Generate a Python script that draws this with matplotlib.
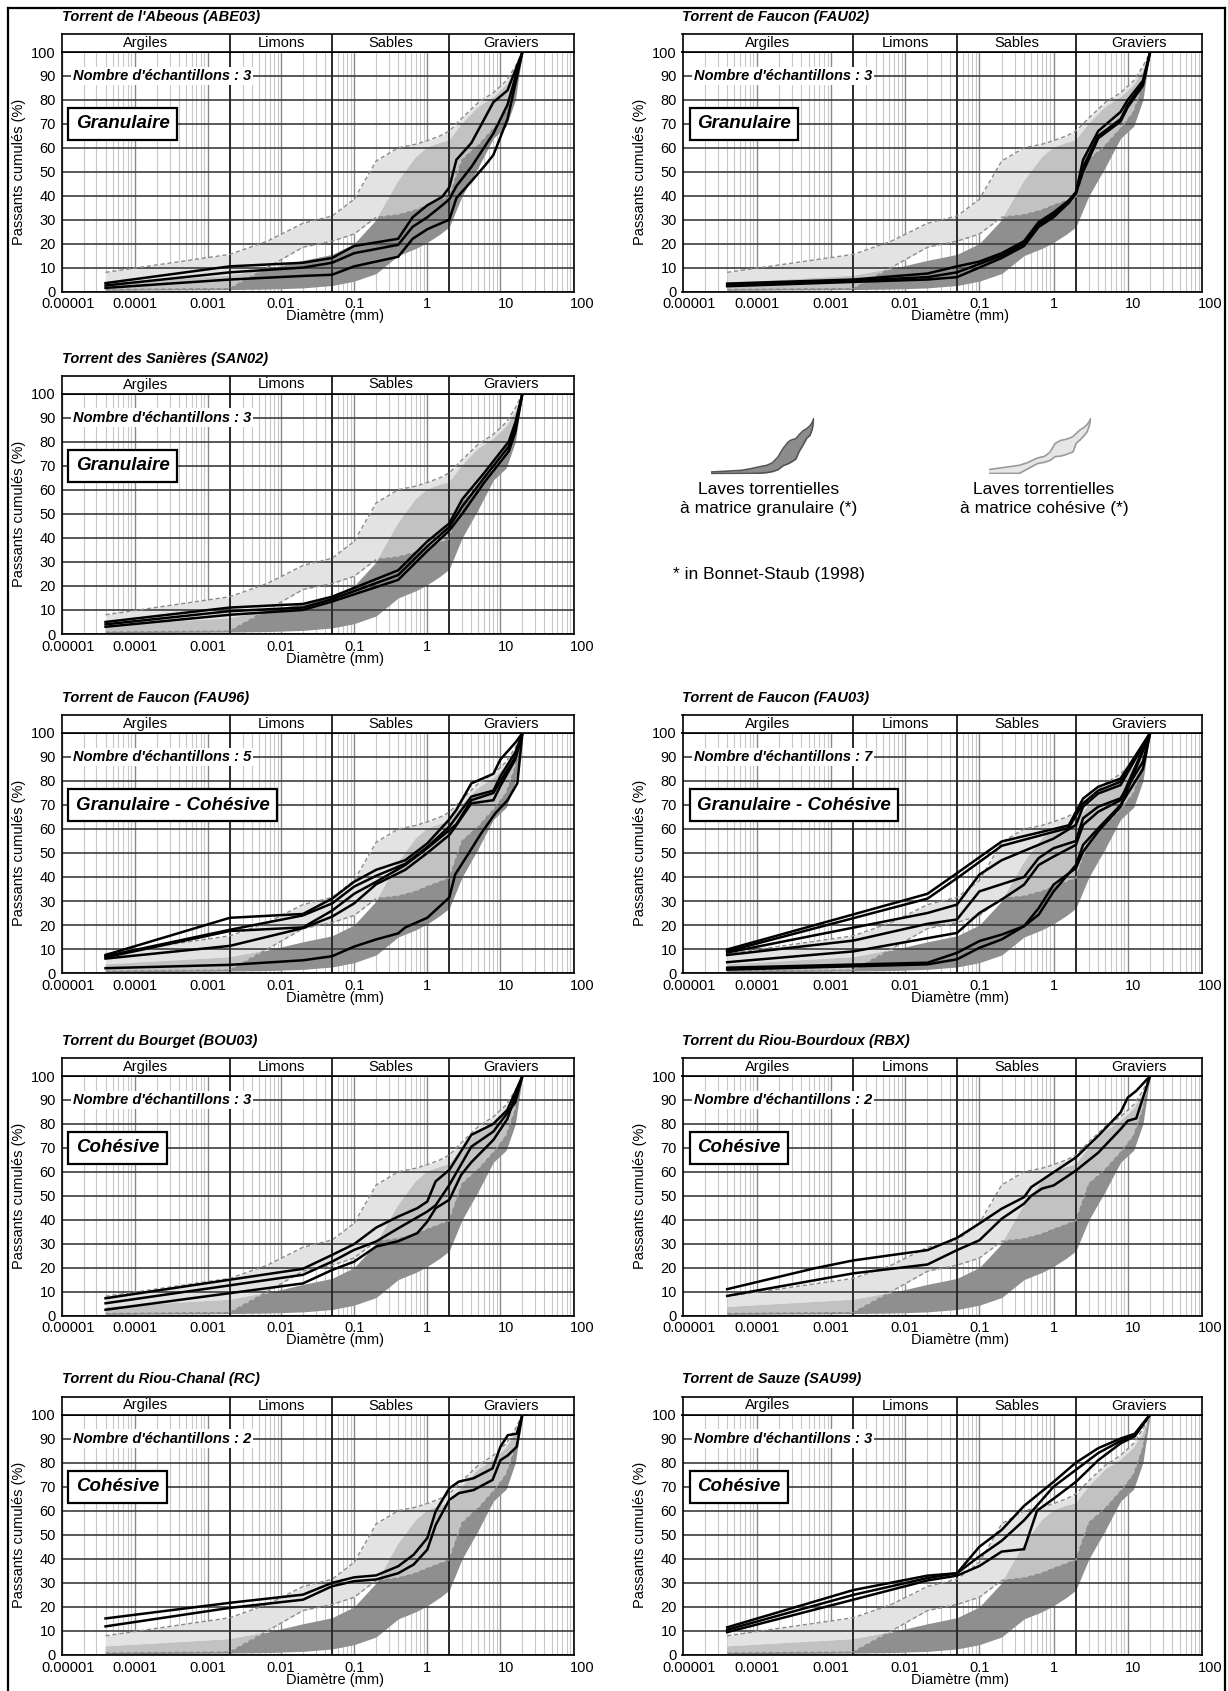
import numpy as np
import matplotlib.pyplot as plt
import matplotlib.transforms as mtransforms
from matplotlib.lines import Line2D
from matplotlib.patches import Rectangle
from matplotlib.ticker import LogLocator, NullFormatter

plt.rcParams['font.family'] = ['Liberation Sans', 'DejaVu Sans']

# ============================================================
# 1. DONNEES
# ============================================================

# fuseaux de reference (Bonnet-Staub, 1998), diametres en mm
env_d = [4e-5, 0.002, 0.0065, 0.02, 0.05, 0.1, 0.2, 0.4, 0.7, 1, 1.5, 2, 3, 5, 8, 12, 16, 20]
coh_up = [8, 15.5, 21, 28.5, 31.5, 38.5, 54.5, 60, 61.5, 63, 65, 67, 72.5, 79, 83, 88, 94, 100]
coh_lo = [0.8, 1.2, 10, 18.5, 21, 24, 31, 32, 34, 36, 38, 39.5, 55, 61, 68, 75, 86, 100]
gran_up = [3.5, 6.5, 9.5, 13, 15.5, 20, 30, 46, 56, 60, 62, 63, 70, 77, 81, 86, 92, 100]
gran_lo = [0.5, 0.8, 1, 1.5, 2.5, 4.3, 7.5, 15, 18, 20.5, 24, 27, 40, 52, 64, 69, 80, 100]

# courbes granulometriques (diametre, passant cumule %)
abe03 = [
    ([4e-5, 0.002, 0.02, 0.05, 0.1, 0.4, 0.63, 1, 1.6, 2, 2.5, 4, 8, 12.5, 20],
     [3.5, 10.5, 12, 14, 19, 22, 31, 36, 39.5, 43.5, 55, 62, 79, 84, 100]),
    ([4e-5, 0.002, 0.02, 0.05, 0.1, 0.4, 0.63, 1, 1.6, 2, 2.5, 4, 8, 12.5, 20],
     [2.5, 8, 10, 12, 16, 19.5, 27, 31, 36, 38.5, 44, 52, 66, 78, 100]),
    ([4e-5, 0.002, 0.02, 0.05, 0.1, 0.4, 0.63, 1, 2, 2.5, 4, 6.3, 8, 12.5, 20],
     [1.5, 5, 6.5, 7, 10.5, 14.5, 22, 26, 30, 39, 46, 53, 57, 72, 100]),
]

fau02 = [
    ([4e-5, 0.002, 0.02, 0.05, 0.1, 0.2, 0.4, 0.63, 1, 1.6, 2, 2.5, 4, 8, 10, 16, 20],
     [3.3, 5, 7.5, 10.5, 12.5, 16, 21, 29, 33, 38, 41.5, 55, 67, 75, 80, 88, 100]),
    ([4e-5, 0.002, 0.02, 0.05, 0.1, 0.2, 0.4, 0.63, 1, 1.6, 2, 2.5, 4, 8, 10, 16, 20],
     [2.5, 4.5, 6, 8, 11.5, 15, 20, 28, 32, 37.5, 41, 52, 65, 72, 78, 87, 100]),
    ([4e-5, 0.002, 0.02, 0.05, 0.1, 0.2, 0.4, 0.63, 1, 1.6, 2, 2.5, 4, 8, 10, 16, 20],
     [2.2, 4, 5, 6, 10, 14, 19, 27, 31, 37, 41, 50, 64, 71, 77, 86, 100]),
]

san02 = [
    ([4e-5, 0.002, 0.02, 0.05, 0.4, 1, 2, 3, 6, 13, 16, 20],
     [5, 11, 12.5, 15.5, 26.5, 38.5, 46, 56, 67, 80, 88, 100]),
    ([4e-5, 0.002, 0.02, 0.05, 0.4, 1, 2, 3, 6, 13, 16, 20],
     [4, 9.5, 11, 14.5, 24.5, 36.5, 44.5, 53, 65, 78, 86, 100]),
    ([4e-5, 0.002, 0.02, 0.05, 0.4, 1, 2, 3, 6, 13, 16, 20],
     [3, 8, 10, 13.5, 22.5, 34.5, 43, 50, 63, 76, 84, 100]),
]

fau96 = [
    ([4e-5, 0.002, 0.02, 0.05, 0.1, 0.2, 0.5, 1, 2, 2.5, 4, 8, 10, 16, 20],
     [7.5, 23, 24.6, 31, 38, 43, 47, 54, 64, 68, 79, 83, 89, 96, 100]),
    ([4e-5, 0.002, 0.02, 0.05, 0.1, 0.2, 0.5, 1, 2, 2.5, 4, 8, 10, 16, 20],
     [7, 18, 24, 29, 36, 40.5, 45.5, 52.5, 61, 65, 73.5, 76, 82, 92, 100]),
    ([4e-5, 0.002, 0.02, 0.05, 0.1, 0.2, 0.5, 1, 2, 2.5, 4, 8, 10, 16, 20],
     [6.5, 17.5, 19, 26, 33, 38, 45, 52, 59.5, 62, 72, 75, 80, 90, 100]),
    ([4e-5, 0.002, 0.02, 0.05, 0.1, 0.2, 0.5, 1, 2, 2.5, 4, 8, 10, 16, 20],
     [6, 11.3, 18.7, 23.5, 29, 37, 43, 50, 57.5, 61.6, 70.7, 72, 78, 89, 100]),
    ([4e-5, 0.002, 0.02, 0.05, 0.1, 0.2, 0.4, 0.5, 1, 2, 2.4, 3.7, 5.4, 8.5, 12.5, 17, 20],
     [2, 3.4, 5.3, 7, 11, 14, 16.5, 19, 23, 31.5, 41, 50, 58, 66.5, 72, 79, 100]),
]

fau03 = [
    ([4e-5, 0.02, 0.05, 0.2, 1.6, 2.5, 4, 8, 20],
     [9.8, 33, 41.6, 54.8, 61.5, 72.7, 77.6, 81, 100]),
    ([4e-5, 0.02, 0.05, 0.2, 1.6, 2.5, 4, 8, 20],
     [9, 31, 39.5, 53, 60.5, 70.7, 76, 79.7, 100]),
    ([4e-5, 0.02, 0.05, 0.1, 0.2, 1, 2, 2.5, 4, 8, 20],
     [8.5, 25, 28.5, 41, 47, 56, 61.7, 69.3, 74.8, 78.3, 100]),
    ([4e-5, 0.002, 0.02, 0.05, 0.1, 0.4, 0.63, 1, 2, 2.5, 4, 8, 16, 20],
     [7.5, 13.5, 20.5, 22.3, 34, 40, 47.9, 52, 55, 64.5, 69.3, 72.8, 88, 100]),
    ([4e-5, 0.002, 0.05, 0.1, 0.2, 0.4, 0.63, 1, 2, 2.5, 4, 8, 20],
     [4.5, 9, 16.7, 25, 30.6, 36.8, 45, 48.5, 53.4, 61.7, 67.2, 72, 100]),
    ([4e-5, 0.02, 0.05, 0.1, 0.2, 0.4, 0.63, 1, 2, 2.5, 4, 8, 16, 20],
     [2.2, 4.3, 8.4, 13.3, 16, 19.5, 24.3, 34, 45, 53.4, 60.3, 70, 85, 100]),
    ([4e-5, 0.02, 0.05, 0.1, 0.2, 0.4, 0.63, 1, 2, 2.5, 4, 8, 20],
     [1.4, 3.6, 5.7, 10.5, 14, 19.5, 27, 36.8, 43.7, 50.6, 59, 69.3, 100]),
]

bou03 = [
    ([4e-5, 0.02, 0.05, 0.1, 0.2, 0.4, 0.73, 1, 1.3, 2, 4, 8, 12.4, 20],
     [7.2, 19.5, 25.3, 29.8, 36.7, 41.3, 44.8, 47.6, 56, 60.8, 75.4, 80, 85.8, 100]),
    ([4e-5, 0.02, 0.05, 0.1, 0.2, 0.4, 1, 1.3, 2, 4, 8, 16, 20],
     [5.1, 17, 22.5, 27.4, 30.9, 36.4, 43.4, 46, 54.5, 70.5, 76.8, 89, 100]),
    ([4e-5, 0.02, 0.05, 0.1, 0.2, 0.4, 0.73, 1, 1.3, 2, 2.9, 4, 8, 12.4, 20],
     [2.4, 13.4, 19, 22.5, 28.8, 31, 34.4, 39.2, 44.8, 48.3, 58.7, 64, 73.3, 82, 100]),
]

rbx = [
    ([4e-5, 0.0006, 0.002, 0.02, 0.05, 0.1, 0.2, 0.4, 0.5, 1, 2, 4, 8, 10, 13, 20],
     [11, 19.7, 23, 27.3, 32.4, 38.4, 44.6, 49.4, 53.6, 59.8, 66, 75, 84.8, 91, 93.8, 100]),
    ([4e-5, 0.002, 0.02, 0.05, 0.1, 0.2, 0.4, 0.5, 0.7, 1, 2, 4, 8, 10, 13, 20],
     [8.2, 17.6, 21.3, 27.3, 31.4, 40.4, 46.7, 50, 53, 54.3, 60.5, 68, 77.8, 81.3, 82.3, 100]),
]

rc = [
    ([4e-5, 0.002, 0.02, 0.05, 0.1, 0.2, 0.4, 0.65, 1, 1.3, 2, 2.7, 4.3, 7.8, 10, 12.6, 16.7, 20],
     [15.2, 21.7, 25.1, 30, 32.3, 33.1, 36.9, 41.7, 48.6, 59.7, 69.3, 72.1, 73.5, 77.6, 86.6, 91.4, 92, 100]),
    ([4e-5, 0.002, 0.02, 0.05, 0.1, 0.2, 0.4, 0.65, 1, 1.3, 2, 2.7, 4.3, 7.8, 10, 12.6, 16.7, 20],
     [11.9, 19.6, 23, 28.6, 30.7, 31.4, 34, 37.6, 43.8, 54, 64.5, 67.3, 68.6, 72.8, 81, 83, 86.6, 100]),
]

sau99 = [
    ([4e-5, 0.002, 0.02, 0.05, 0.1, 0.2, 0.4, 1, 2, 4, 8, 12.5, 20],
     [11.5, 27, 33, 34, 45, 52, 62, 72, 80, 86, 90, 92, 100]),
    ([4e-5, 0.002, 0.02, 0.05, 0.1, 0.2, 0.4, 1, 2, 4, 8, 12.5, 20],
     [10.5, 25, 32, 34, 41, 47.5, 56, 70, 77, 84, 89, 92, 100]),
    ([4e-5, 0.002, 0.02, 0.05, 0.1, 0.2, 0.4, 0.6, 1, 2, 4, 8, 12.5, 20],
     [9.5, 23, 31, 33, 37, 43, 44, 60, 65, 72, 81, 88, 91, 100]),
]

# (colonne, ligne, titre, nb echantillons, type, courbes)
panels = [
    (0, 0, "Torrent de l'Abeous (ABE03)", 3, "Granulaire", abe03),
    (1, 0, "Torrent de Faucon (FAU02)", 3, "Granulaire", fau02),
    (0, 1, "Torrent des Sanières (SAN02)", 3, "Granulaire", san02),
    (0, 2, "Torrent de Faucon (FAU96)", 5, "Granulaire - Cohésive", fau96),
    (1, 2, "Torrent de Faucon (FAU03)", 7, "Granulaire - Cohésive", fau03),
    (0, 3, "Torrent du Bourget (BOU03)", 3, "Cohésive", bou03),
    (1, 3, "Torrent du Riou-Bourdoux (RBX)", 2, "Cohésive", rbx),
    (0, 4, "Torrent du Riou-Chanal (RC)", 2, "Cohésive", rc),
    (1, 4, "Torrent de Sauze (SAU99)", 3, "Cohésive", sau99),
]

classes = ["Argiles", "Limons", "Sables", "Graviers"]
class_bounds = [1e-5, 0.002, 0.05, 2, 100]
x_ticks = [1e-5, 1e-4, 1e-3, 1e-2, 1e-1, 1, 10, 100]
x_labels = ['0.00001', '0.0001', '0.001', '0.01', '0.1', '1', '10', '100']

# ============================================================
# 2. MISE EN PAGE (pixels)
# ============================================================
W, H = 1228, 1691
col_x = [(61.5, 573.6), (682.5, 1202)]
row_y = [(52, 291.5), (393.5, 634), (733, 973), (1076, 1315.5), (1414.5, 1655)]
band_h = 18

C_LIGHT, C_MID, C_DARK = '#e3e3e3', '#c2c2c2', '#8f8f8f'

fig = plt.figure(figsize=(W / 100, H / 100), dpi=100)


def rect(x0, y_top, x1, y_bot):
    return [x0 / W, 1 - y_bot / H, (x1 - x0) / W, (y_bot - y_top) / H]


def draw_envelopes(ax):
    d = np.array(env_d)
    clo, cup = np.array(coh_lo), np.array(coh_up)
    glo, gup = np.array(gran_lo), np.array(gran_up)
    ax.fill_between(d, clo, cup, color=C_LIGHT, lw=0, zorder=1)
    ax.fill_between(d, glo, gup, color=C_DARK, lw=0, zorder=1.1)
    lo, hi = np.maximum(clo, glo), np.minimum(cup, gup)
    ax.fill_between(d, lo, hi, where=hi > lo, interpolate=True, color=C_MID, lw=0, zorder=1.2)


for col, row, title, n, kind, curves in panels:
    x0, x1 = col_x[col]
    y100, y0 = row_y[row]
    ax = fig.add_axes(rect(x0, y100, x1, y0))
    ax.set_xscale('log')
    ax.set_xlim(1e-5, 100)
    ax.set_ylim(0, 100)

    draw_envelopes(ax)
    ax.plot(env_d, coh_up, color='#8c8c8c', lw=1.0, ls=(0, (3, 2)), zorder=2.6)
    ax.plot(env_d, coh_lo, color='#8c8c8c', lw=1.0, ls=(0, (3, 2)), zorder=2.6)

    # grille semi-log : verticales sous les fuseaux, horizontales dessus
    ax.set_axisbelow(False)
    ax.xaxis.set_zorder(0.5)
    ax.set_xticks(x_ticks)
    ax.set_xticklabels(x_labels)
    ax.xaxis.set_minor_locator(LogLocator(base=10, subs=range(2, 10), numticks=20))
    ax.xaxis.set_minor_formatter(NullFormatter())
    ax.set_yticks(range(0, 101, 10))
    ax.grid(axis='x', which='minor', color='#c8c8c8', lw=0.8)
    ax.grid(axis='x', which='major', color='#8a8a8a', lw=1.0)
    ax.grid(axis='y', which='major', color='#3c3c3c', lw=1.2)
    for b in class_bounds[1:-1]:
        ax.axvline(b, color='#2a2a2a', lw=1.4, zorder=2.55)
    ax.tick_params(which='both', length=0, labelsize=10.5, pad=4)
    for s in ax.spines.values():
        s.set_linewidth(1.2)
        s.set_zorder(5)

    for lab, dx in zip(ax.get_xticklabels(), [5, 0, 0, 0, 0, 0, 4, 6]):
        lab.set_transform(lab.get_transform() +
                          mtransforms.ScaledTranslation(dx / 72, 0, fig.dpi_scale_trans))

    for d, v in curves:
        ax.plot(d, v, color='black', lw=1.8, zorder=3, solid_joinstyle='miter')

    ax.set_xlabel('Diamètre (mm)', fontsize=10.5, labelpad=-1)
    ax.xaxis.set_label_coords(0.535, -0.075)
    ax.set_ylabel('Passants cumulés (%)', fontsize=10.5, labelpad=4)

    ax.text(0.022, 90, "Nombre d'échantillons : %d" % n, transform=ax.get_yaxis_transform(),
            fontsize=10.5, fontweight='bold', style='italic', va='center', ha='left',
            zorder=4, bbox=dict(boxstyle='square,pad=0.15', fc='white', ec='none'))
    ax.text(0.028, 70, kind, transform=ax.get_yaxis_transform(),
            fontsize=13.5, fontweight='bold', style='italic', va='center', ha='left',
            zorder=4, bbox=dict(boxstyle='square,pad=0.4', fc='white', ec='black', lw=1.6))

    # bandeau des classes granulometriques
    bx = fig.add_axes(rect(x0, y100 - band_h, x1, y100))
    bx.set_xscale('log')
    bx.set_xlim(1e-5, 100)
    bx.set_ylim(0, 1)
    bx.set_xticks([])
    bx.set_yticks([])
    bx.minorticks_off()
    for s in bx.spines.values():
        s.set_linewidth(1.2)
    for b in class_bounds[1:-1]:
        bx.axvline(b, color='#2a2a2a', lw=1.4)
    for name, a, b in zip(classes, class_bounds[:-1], class_bounds[1:]):
        bx.text(np.sqrt(a * b), 0.5, name, ha='center', va='center', fontsize=10.5)

    fig.text(x0 / W, 1 - (y100 - band_h - 17) / H, title, fontsize=10.5,
             fontweight='bold', style='italic', ha='left', va='center')

# ============================================================
# 3. LEGENDE
# ============================================================
for (ix0, ix1), lo, up, fc, ec in [((711, 814), gran_lo, gran_up, '#8c8c8c', '#555555'),
                                   ((989, 1091), coh_lo, coh_up, '#e6e6e6', '#9a9a9a')]:
    ix = fig.add_axes(rect(ix0, 418, ix1, 474))
    ix.set_xscale('log')
    ix.set_xlim(4e-5, 20)
    ix.set_ylim(0, 100)
    ix.fill_between(env_d, lo, up, color=fc, lw=0)
    ix.plot(env_d, lo, color=ec, lw=1.2)
    ix.plot(env_d, up, color=ec, lw=1.2)
    ix.axis('off')

fig.text(769 / W, 1 - 499 / H, "Laves torrentielles\nà matrice granulaire (*)",
         ha='center', va='center', fontsize=12.5, linespacing=1.3)
fig.text(1044 / W, 1 - 499 / H, "Laves torrentielles\nà matrice cohésive (*)",
         ha='center', va='center', fontsize=12.5, linespacing=1.3)
fig.text(673 / W, 1 - 575 / H, "* in Bonnet-Staub (1998)", ha='left', va='center', fontsize=12.5)

# cadre general
fig.add_artist(Rectangle((1224.5 / W, 0), 1, 1, transform=fig.transFigure,
                         fc='white', ec='none', zorder=10))
for xs, ys in [([7.5, 7.5], [7.5, H]), ([7.5, 1224.5], [7.5, 7.5]), ([1224.5, 1224.5], [7.5, H])]:
    fig.add_artist(Line2D([x / W for x in xs], [1 - y / H for y in ys],
                          color='black', lw=1.6, zorder=11))

fig.savefig('out.png', dpi=100)
